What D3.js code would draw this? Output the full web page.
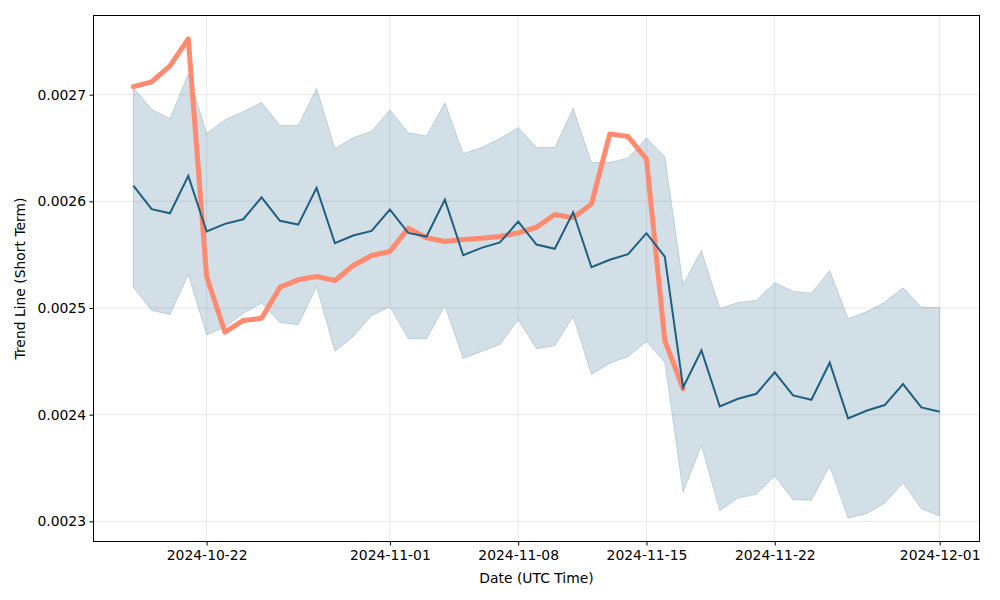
<!DOCTYPE html>
<html><head><meta charset="utf-8">
<script src="https://cdn.jsdelivr.net/npm/d3@7"></script>
<style>body{margin:0;background:#fff}svg{display:block}text{font-family:"DejaVu Sans",sans-serif}</style>
</head><body><svg id="c" width="1000" height="600"></svg>
<script>
const startDate = "2024-10-18";
const meanValues = [0.0026148,0.0025926,0.0025888,0.0026238,0.0025717,0.0025789,0.0025832,0.0026038,0.0025817,0.0025782,
0.0026126,0.0025607,0.0025679,0.0025723,0.0025923,0.0025704,0.0025670,0.0026016,0.0025495,0.0025564,
0.0025614,0.0025810,0.0025595,0.0025555,0.0025897,0.0025382,0.0025452,0.0025504,0.0025701,0.0025482,
0.0024255,0.0024602,0.0024077,0.0024149,0.0024196,0.0024396,0.0024180,0.0024140,0.0024487,0.0023965,
0.0024037,0.0024090,0.0024286,0.0024068,0.0024028];
const upperValues = [0.0027066,0.0026862,0.0026775,0.0027194,0.0026637,0.0026763,0.0026841,0.0026928,0.0026710,0.0026710,
0.0027059,0.0026494,0.0026597,0.0026656,0.0026857,0.0026644,0.0026613,0.0026925,0.0026447,0.0026504,
0.0026588,0.0026691,0.0026504,0.0026504,0.0026872,0.0026363,0.0026363,0.0026407,0.0026594,0.0026419,
0.0025220,0.0025539,0.0024995,0.0025052,0.0025073,0.0025236,0.0025157,0.0025139,0.0025351,0.0024899,
0.0024964,0.0025054,0.0025189,0.0025007,0.0025005];
const lowerValues = [0.0025195,0.0024977,0.0024939,0.0025314,0.0024749,0.0024820,0.0024951,0.0025045,0.0024864,0.0024843,
0.0025201,0.0024593,0.0024733,0.0024927,0.0025011,0.0024712,0.0024712,0.0025023,0.0024527,0.0024593,
0.0024658,0.0024890,0.0024618,0.0024646,0.0024920,0.0024377,0.0024483,0.0024546,0.0024686,0.0024492,
0.0023274,0.0023712,0.0023100,0.0023218,0.0023253,0.0023424,0.0023203,0.0023197,0.0023518,0.0023031,
0.0023072,0.0023171,0.0023359,0.0023119,0.0023050];
const trendValues = [0.0027075,0.0027119,0.0027269,0.0027522,0.0025295,0.0024773,0.0024883,0.0024904,0.0025195,0.0025264,
0.0025295,0.0025258,0.0025398,0.0025492,0.0025529,0.0025748,0.0025658,0.0025623,0.0025642,0.0025654,
0.0025670,0.0025704,0.0025757,0.0025876,0.0025845,0.0025976,0.0026632,0.0026607,0.0026398,0.0024696,
0.0024243];
const xTickLabels = ["2024-10-22","2024-11-01","2024-11-08","2024-11-15","2024-11-22","2024-12-01"];
const yTickValues = [0.0023,0.0024,0.0025,0.0026,0.0027];
const xLabel = "Date (UTC Time)";
const yLabel = "Trend Line (Short Term)";

const parse = d3.utcParse("%Y-%m-%d");
const t0 = parse(startDate);
const dates = d3.utcDay.range(t0, d3.utcDay.offset(t0, meanValues.length));

const L = 93, R = 980, T = 15, B = 542;
const svg = d3.select("#c");

const tMin = dates[0].getTime(), tMax = dates[dates.length-1].getTime();
const padX = (tMax - tMin) * 0.05;
const x = d3.scaleUtc().domain([new Date(tMin - padX), new Date(tMax + padX)]).range([L, R]);
const allV = lowerValues.concat(upperValues, meanValues, trendValues);
const vMin = d3.min(allV), vMax = d3.max(allV), padY = (vMax - vMin) * 0.05;
const y = d3.scaleLinear().domain([vMin - padY, vMax + padY]).range([B, T]);

const xTicks = xTickLabels.map(parse);

// grid
const g = svg.append("g");
g.selectAll("line.gx").data(xTicks).join("line")
  .attr("x1", d => x(d)).attr("x2", d => x(d)).attr("y1", T).attr("y2", B)
  .attr("stroke", "#b0b0b0").attr("stroke-opacity", 0.35).attr("stroke-width", 0.8);
g.selectAll("line.gy").data(yTickValues).join("line")
  .attr("y1", d => y(d)).attr("y2", d => y(d)).attr("x1", L).attr("x2", R)
  .attr("stroke", "#b0b0b0").attr("stroke-opacity", 0.35).attr("stroke-width", 0.8);

// band
const area = d3.area().x((d, i) => x(dates[i])).y0((d, i) => y(lowerValues[i])).y1((d, i) => y(upperValues[i]));
svg.append("path").datum(meanValues).attr("d", area)
  .attr("fill", "#1f5f80").attr("fill-opacity", 0.2)
  .attr("stroke", "#1f5f80").attr("stroke-opacity", 0.2).attr("stroke-width", 1);

// trend line
const lineT = d3.line().x((d, i) => x(dates[i])).y(d => y(d));
svg.append("path").datum(trendValues).attr("d", lineT)
  .attr("fill", "none").attr("stroke", "#ff8a70").attr("stroke-width", 5)
  .attr("stroke-linejoin", "round").attr("stroke-linecap", "round");

// mean line
svg.append("path").datum(meanValues).attr("d", lineT)
  .attr("fill", "none").attr("stroke", "#1f5f80").attr("stroke-width", 2)
  .attr("stroke-linejoin", "miter");

// axes
const fmt = d3.utcFormat("%Y-%m-%d");
const xAxis = d3.axisBottom(x).tickValues(xTicks).tickFormat(fmt).tickSize(3.5).tickPadding(4.5);
const yAxis = d3.axisLeft(y).tickValues(yTickValues).tickFormat(d3.format(".4f")).tickSize(3.5).tickPadding(3.5);
const gx = svg.append("g").attr("transform", `translate(0,${B})`).call(xAxis);
const gy = svg.append("g").attr("transform", `translate(${L},0)`).call(yAxis);
[gx, gy].forEach(a => {
  a.select(".domain").remove();
  a.selectAll(".tick line").attr("stroke", "#000").attr("stroke-width", 1);
  a.selectAll(".tick text").attr("fill", "#000").style("font-size", "13.9px").style("font-family", "DejaVu Sans");
});
svg.append("rect").attr("x", L + 0.5).attr("y", T + 0.5).attr("width", R - L - 1).attr("height", B - T - 1)
  .attr("fill", "none").attr("stroke", "#000").attr("stroke-width", 1).attr("shape-rendering", "crispEdges");

svg.append("text").attr("x", (L + R) / 2).attr("y", 583).attr("text-anchor", "middle")
  .style("font-size", "13.9px").text(xLabel);
svg.append("text").attr("transform", `translate(25,${(T + B) / 2}) rotate(-90)`).attr("text-anchor", "middle")
  .style("font-size", "13.9px").text(yLabel);
</script></body></html>
